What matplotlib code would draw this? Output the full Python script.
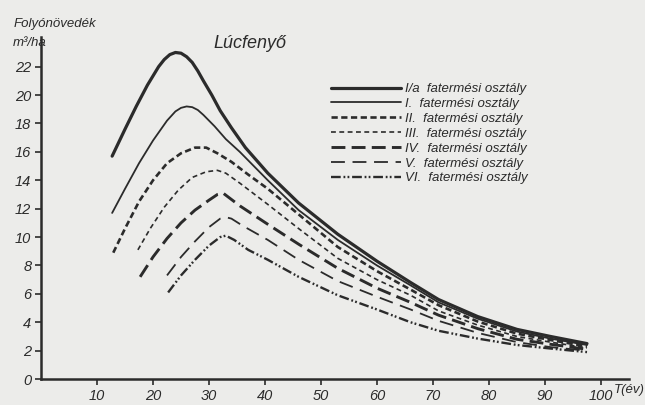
import matplotlib
matplotlib.use("Agg")
import matplotlib.pyplot as plt

plt.rcParams["font.family"] = ["Liberation Sans", "DejaVu Sans"]
plt.rcParams["font.style"] = "italic"
plt.rcParams["lines.scale_dashes"] = False

# age T (év) -> current increment (m3/ha)
t_ia = [12.7, 15, 17, 19, 21, 22, 23, 24, 25, 26, 27, 28, 29, 30.5, 32, 34, 36.5, 40.5, 46, 53, 60, 66, 71, 78, 85, 91, 97.5]
v_ia = [15.7, 17.6, 19.2, 20.7, 22.0, 22.5, 22.85, 23.0, 22.95, 22.7, 22.3, 21.7, 21.0, 20.0, 18.9, 17.7, 16.3, 14.5, 12.4, 10.2, 8.3, 6.8, 5.6, 4.4, 3.5, 3.0, 2.5]
t_i = [12.7, 15, 17.5, 20, 22.5, 24, 25, 26, 27, 28, 29, 31, 33, 35.5, 40.5, 46, 53, 60, 66, 71, 78, 85, 91, 97.5]
v_i = [11.7, 13.4, 15.2, 16.8, 18.2, 18.85, 19.1, 19.2, 19.15, 18.95, 18.6, 17.8, 16.9, 16.0, 14.0, 11.9, 9.8, 8.0, 6.6, 5.4, 4.25, 3.35, 2.85, 2.4]
t_ii = [12.9, 15, 17.5, 20, 22.5, 25, 27.5, 29.5, 31.5, 34, 37, 40.5, 46, 53, 60, 66, 71, 78, 85, 91, 97.5]
v_ii = [8.9, 10.6, 12.5, 14.0, 15.2, 15.9, 16.3, 16.3, 15.9, 15.3, 14.4, 13.4, 11.6, 9.3, 7.6, 6.3, 5.2, 4.05, 3.2, 2.75, 2.3]
t_iii = [17.3, 19.5, 22, 24.5, 27, 29.5, 31.5, 33, 35.5, 40.5, 46, 53, 60, 66, 71, 78, 85, 91, 97.5]
v_iii = [9.1, 10.6, 12.1, 13.3, 14.2, 14.6, 14.7, 14.5, 13.8, 12.3, 10.6, 8.5, 7.0, 5.9, 4.8, 3.8, 3.0, 2.6, 2.2]
t_iv = [17.7, 20, 22.5, 25, 27.5, 30, 31.5, 32.5, 33.5, 35.5, 40.5, 46, 53, 60, 66, 71, 78, 85, 91, 97.5]
v_iv = [7.2, 8.6, 9.9, 11.0, 11.9, 12.6, 13.0, 13.1, 12.8, 12.2, 10.9, 9.5, 7.8, 6.4, 5.4, 4.5, 3.55, 2.8, 2.45, 2.1]
t_v = [22.5, 25, 27.5, 30, 32, 33, 34, 36, 40.5, 46, 53, 60, 66, 71, 78, 85, 91, 97.5]
v_v = [7.3, 8.6, 9.7, 10.7, 11.3, 11.4, 11.3, 10.8, 9.8, 8.4, 6.9, 5.8, 4.9, 4.1, 3.25, 2.6, 2.25, 2.0]
t_vi = [22.7, 25, 27.5, 30, 32, 33, 34.5, 37, 40.5, 46, 53, 60, 66, 71, 78, 85, 91, 97.5]
v_vi = [6.1, 7.3, 8.4, 9.4, 10.0, 10.1, 9.8, 9.1, 8.4, 7.2, 5.9, 4.9, 4.0, 3.4, 2.85, 2.4, 2.15, 1.9]

labels = ["I/a  fatermési osztály", "I.  fatermési osztály", "II.  fatermési osztály",
          "III.  fatermési osztály", "IV.  fatermési osztály", "V.  fatermési osztály",
          "VI.  fatermési osztály"]
xticks = [10, 20, 30, 40, 50, 60, 70, 80, 90, 100]
yticks = [0, 2, 4, 6, 8, 10, 12, 14, 16, 18, 20, 22]

ink = "#2b2b2b"
paper = "#ececea"
styles = [
    (2.3, "-"),
    (1.3, "-"),
    (1.9, (0, (4.5, 2.5))),
    (1.2, (0, (3.5, 2.5))),
    (2.1, (0, (10, 4.5))),
    (1.3, (0, (10, 5.5))),
    (1.7, (0, (7, 2, 1.3, 1.6, 1.3, 2))),
]
series = [(t_ia, v_ia), (t_i, v_i), (t_ii, v_ii), (t_iii, v_iii),
          (t_iv, v_iv), (t_v, v_v), (t_vi, v_vi)]

fig = plt.figure(figsize=(6.45, 4.05), dpi=100, facecolor=paper)
ax = fig.add_axes([0.0636, 0.064, 0.9116, 0.845], facecolor=paper)
for (t, v), (lw, ls), lab in zip(series, styles, labels):
    ax.plot(t, v, color=ink, lw=lw, linestyle=ls, label=lab,
            solid_capstyle="round", solid_joinstyle="round")

ax.set_xlim(0, 105); ax.set_ylim(0, 24.1)
ax.set_xticks(xticks); ax.set_yticks(yticks)
ax.tick_params(axis="both", colors=ink, labelsize=10.5, length=4, width=1.2)
ax.tick_params(axis="y", pad=3)
for lbl in ax.get_xticklabels() + ax.get_yticklabels():
    lbl.set_style("italic")
for spine in ("top", "right"):
    ax.spines[spine].set_visible(False)
for spine in ("left", "bottom"):
    ax.spines[spine].set_linewidth(1.8); ax.spines[spine].set_color(ink)

leg = ax.legend(loc="upper left", bbox_to_anchor=(331 / 645, 1 - 83 / 405),
                bbox_transform=fig.transFigure, frameon=False, fontsize=9.5,
                handlelength=5.3, handletextpad=0.3, labelspacing=0.2,
                borderpad=0, borderaxespad=0)
for txt in leg.get_texts():
    txt.set_color(ink); txt.set_style("italic")

fig.text(213 / 645, 1 - 43 / 405, "Lúcfenyő", fontsize=13, style="italic", color=ink,
         va="center", ha="left")
fig.text(14 / 645, 1 - 24 / 405, "Folyónövedék", fontsize=9.5, style="italic", color=ink,
         va="center", ha="left")
fig.text(13 / 645, 1 - 43 / 405, "m³/ha", fontsize=9.5, style="italic", color=ink,
         va="center", ha="left")
fig.text(614 / 645, 1 - 390 / 405, "T(év)", fontsize=9.5, style="italic", color=ink,
         va="center", ha="left")

fig.savefig("out.png", dpi=100, facecolor=paper)
